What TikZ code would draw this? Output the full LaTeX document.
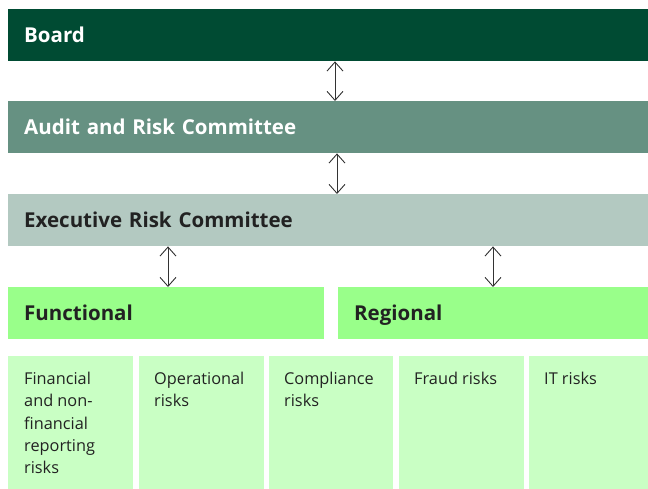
\documentclass[tikz,border=0pt]{standalone}
\usepackage{fontspec}
\setmainfont{Open Sans}
\usetikzlibrary{arrows.meta,positioning,calc}
\definecolor{boardc}{HTML}{004B33}
\definecolor{auditc}{HTML}{669182}
\definecolor{execc}{HTML}{B3C9C1}
\definecolor{groupc}{HTML}{99FF8A}
\definecolor{riskc}{HTML}{C9FFC4}
\definecolor{darktext}{HTML}{222222}
\begin{document}
\begin{tikzpicture}[x=1pt,y=-1pt,
  hbox/.style={anchor=north west, minimum height=52pt, inner xsep=16pt, inner ysep=0pt, align=left, text height=15pt, text depth=0pt, font=\bfseries\fontsize{20.5}{22}\selectfont},
  rbox/.style={anchor=north west, minimum height=133pt, inner sep=0pt, fill=riskc},
  rtext/.style={anchor=north west, align=left, inner sep=0pt, text=darktext, font=\fontsize{16.3}{22.3}\selectfont},
  biarrow/.style={draw=black!80, line width=0.9pt, {Straight Barb[length=9pt,width=16pt]}-{Straight Barb[length=9pt,width=16pt]}}
]
\useasboundingbox (0,0) rectangle (648,489);
\node[hbox, fill=boardc, text=white, minimum width=640pt, text width=608pt] (board) at (8,9) {Board};
\node[hbox, fill=auditc, text=white, minimum width=640pt, text width=608pt] (audit) at (8,101) {Audit and Risk Committee};
\node[hbox, fill=execc, text=darktext, minimum width=640pt, text width=608pt] (exec) at (8,194) {Executive Risk Committee};
\node[hbox, fill=groupc, text=darktext, minimum width=316pt, text width=284pt] (func) at (8,287) {Functional};
\node[hbox, fill=groupc, text=darktext, minimum width=310pt, text width=278pt] (reg) at (338,287) {Regional};

\node[rbox, minimum width=125pt] (r1) at (8,356) {};
\node[rbox, minimum width=125pt] (r2) at (139,356) {};
\node[rbox, minimum width=124pt] (r3) at (269,356) {};
\node[rbox, minimum width=125pt] (r4) at (399,356) {};
\node[rbox, minimum width=119pt] (r5) at (529,356) {};

\node[rtext] (t1) at ([xshift=16pt,yshift=-16pt]r1.north west) {Financial\\and non-\\financial\\reporting\\risks};
\node[rtext] (t2) at ([xshift=15pt,yshift=-16pt]r2.north west) {Operational\\risks};
\node[rtext] (t3) at ([xshift=15pt,yshift=-16pt]r3.north west) {Compliance\\risks};
\node[rtext] (t4) at ([xshift=15pt,yshift=-16pt]r4.north west) {Fraud risks};
\node[rtext] (t5) at ([xshift=15pt,yshift=-16pt]r5.north west) {IT risks};

\draw[biarrow] ([xshift=327pt]board.south west) -- ([xshift=327pt]audit.north west);
\draw[biarrow] ([xshift=329pt]audit.south west) -- ([xshift=329pt]exec.north west);
\draw[biarrow] ([xshift=160pt]exec.south west) -- ([xshift=160pt]func.north west);
\draw[biarrow] ([xshift=155pt]reg.north west |- exec.south) -- ([xshift=155pt]reg.north west);
\end{tikzpicture}
\end{document}
